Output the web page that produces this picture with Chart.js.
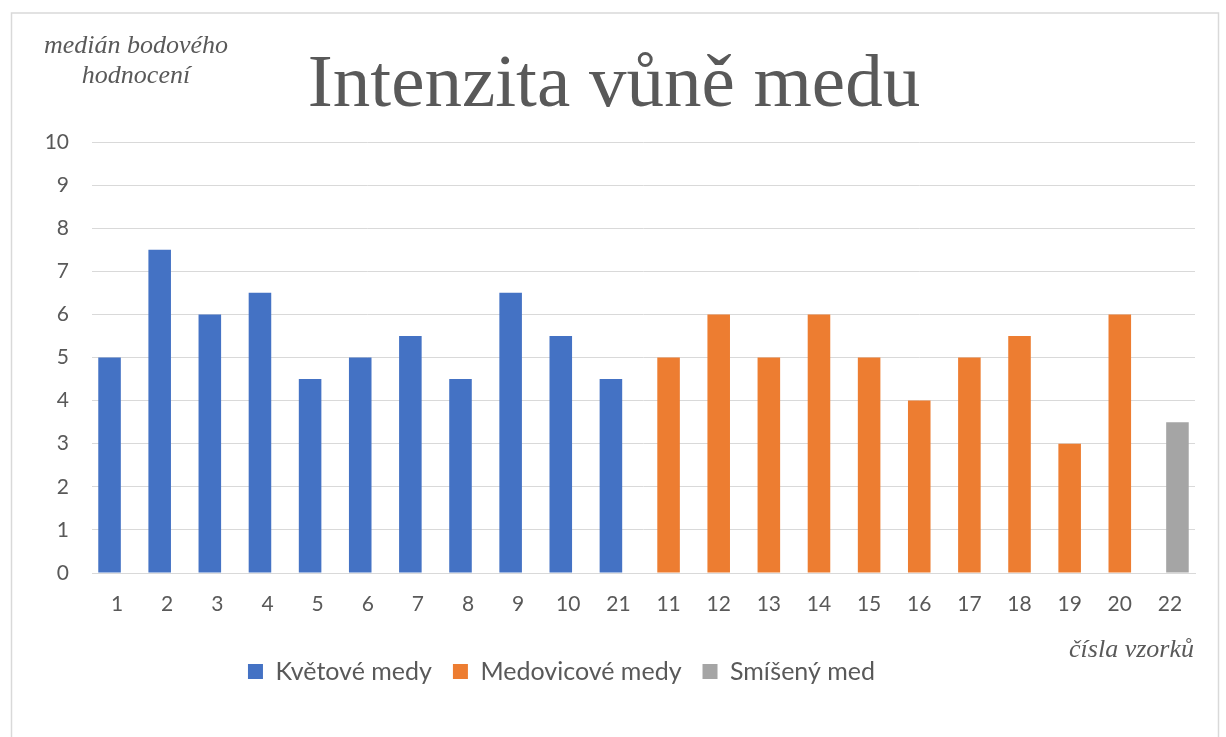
<!DOCTYPE html>
<html>
<head>
<meta charset="utf-8">
<script src="https://cdn.jsdelivr.net/npm/chart.js@4"></script>
<style>
  html, body { margin: 0; padding: 0; background: #ffffff; }
  #wrap { position: absolute; left: 0; top: 0; width: 1226px; height: 737px; }
</style>
</head>
<body>
<div id="wrap"><canvas id="c" width="1226" height="737"></canvas></div>
<script>
// ---- data ----
const categories = ['1','2','3','4','5','6','7','8','9','10','21','11','12','13','14','15','16','17','18','19','20','22'];
const kvetoveMedy = [5, 7.5, 6, 6.5, 4.5, 5, 5.5, 4.5, 6.5, 5.5, 4.5, null, null, null, null, null, null, null, null, null, null, null];
const medovicoveMedy = [null, null, null, null, null, null, null, null, null, null, null, 5, 6, 5, 6, 5, 4, 5, 5.5, 3, 6, null];
const smisenyMed = [null, null, null, null, null, null, null, null, null, null, null, null, null, null, null, null, null, null, null, null, null, 3.5];
const seriesNames = ['Květové medy', 'Medovicové medy', 'Smíšený med'];
const yTicks = [0, 1, 2, 3, 4, 5, 6, 7, 8, 9, 10];
const chartTitle = 'Intenzita vůně medu';
const yTitleLines = ['medián bodového', 'hodnocení'];
const xTitle = 'čísla vzorků';

const TEXT = '#595959';
const GRID = '#d9d9d9';
const SANS = 'Lato, "Open Sans", sans-serif';
const SERIF = '"Liberation Serif", "DejaVu Serif", serif';

const decorPlugin = {
  id: 'decor',
  afterLayout(chart) {
    const lg = chart.legend;
    if (lg) { lg.left -= 51; lg.right -= 51; }
  },
  beforeDraw(chart) {
    const ctx = chart.ctx;
    ctx.save();
    ctx.fillStyle = '#ffffff';
    ctx.fillRect(0, 0, chart.width, chart.height);
    ctx.strokeStyle = GRID;
    ctx.lineWidth = 1.5;
    ctx.strokeRect(11.5, 13, 1207, 740);
    ctx.restore();
  },
  afterDraw(chart) {
    const ctx = chart.ctx;
    ctx.save();
    ctx.fillStyle = TEXT;
    ctx.textBaseline = 'alphabetic';
    // title
    ctx.font = '75px ' + SERIF;
    ctx.textAlign = 'center';
    ctx.fillText(chartTitle, 614, 106);
    // y axis title
    ctx.font = 'italic 26px ' + SERIF;
    ctx.fillText(yTitleLines[0], 136, 53);
    ctx.fillText(yTitleLines[1], 136, 83);
    // x axis title
    ctx.textAlign = 'right';
    ctx.fillText(xTitle, 1194, 657);
    ctx.restore();
  }
};

const ctx = document.getElementById('c').getContext('2d');
new Chart(ctx, {
  type: 'bar',
  data: {
    labels: categories,
    datasets: [
      { label: seriesNames[0], data: kvetoveMedy, backgroundColor: '#4472C4' },
      { label: seriesNames[1], data: medovicoveMedy, backgroundColor: '#ED7D31' },
      { label: seriesNames[2], data: smisenyMed, backgroundColor: '#A5A5A5' }
    ]
  },
  options: {
    responsive: false,
    animation: false,
    devicePixelRatio: 1,
    categoryPercentage: 0.45,
    barPercentage: 3.0,
    layout: { padding: { left: 30, right: 31, top: 142, bottom: 43 } },
    plugins: {
      title: { display: false },
      tooltip: { enabled: false },
      legend: {
        display: true,
        position: 'bottom',
        labels: {
          color: TEXT,
          font: { family: SANS, size: 25 },
          boxWidth: 15,
          boxHeight: 15,
          padding: 21
        }
      }
    },
    scales: {
      x: {
        grid: { display: false, drawTicks: false },
        border: { display: true, color: GRID, width: 1 },
        ticks: { color: TEXT, font: { family: SANS, size: 21 }, padding: 19, maxRotation: 0, autoSkip: false },
        afterFit(scale) { scale.height = 65; }
      },
      y: {
        min: 0,
        max: 10,
        afterBuildTicks(scale) { scale.ticks = yTicks.map(v => ({ value: v })); },
        grid: { color: GRID, lineWidth: 1, drawTicks: false },
        border: { display: false },
        ticks: { color: TEXT, font: { family: SANS, size: 21 }, padding: 23 },
        afterFit(scale) { scale.width = 62; }
      }
    }
  },
  plugins: [decorPlugin]
});
</script>
</body>
</html>
